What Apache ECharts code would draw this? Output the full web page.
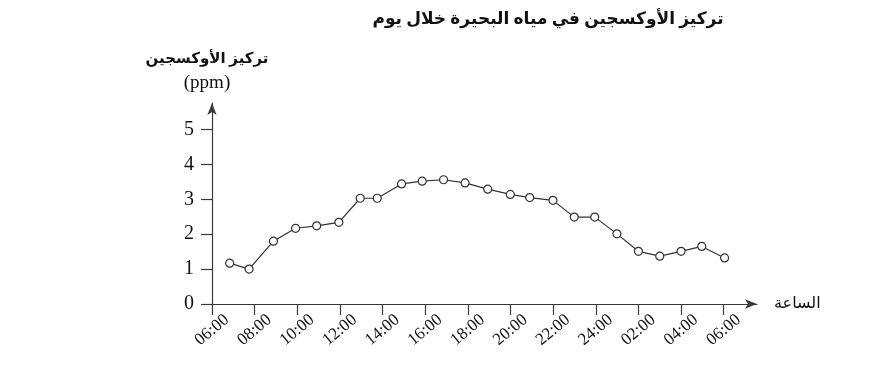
<!DOCTYPE html>
<html>
<head>
<meta charset="utf-8">
<script src="https://cdn.jsdelivr.net/npm/echarts@6/dist/echarts.min.js"></script>
<style>
html,body{margin:0;padding:0;background:#fff;}
#chart{width:891px;height:376px;}
</style>
</head>
<body>
<div id="chart"></div>
<script>
const titleText = 'تركيز الأوكسجين في مياه البحيرة خلال يوم';
const yAxisTitle = 'تركيز الأوكسجين';
const yAxisUnit = '(ppm)';
const xAxisTitle = 'الساعة';
const tickLabels = ['06:00','08:00','10:00','12:00','14:00','16:00','18:00','20:00','22:00','24:00','02:00','04:00','06:00'];
const tickHours = [0,2,4,6,8,10,12,14,16,18,20,22,24];
const yTicks = [0,1,2,3,4,5];
// hours elapsed since 06:00 for each measurement
const hours = [0.83,1.74,2.88,3.92,4.91,5.95,6.95,7.75,8.89,9.86,10.86,11.87,12.93,13.99,14.9,15.99,16.99,17.95,18.99,20.0,21.0,22.0,22.97,24.04];
const oxygen = [1.17,1.0,1.8,2.17,2.24,2.34,3.03,3.03,3.44,3.52,3.56,3.47,3.29,3.14,3.05,2.97,2.49,2.49,2.01,1.51,1.37,1.51,1.65,1.32];

const serif = '"Liberation Serif", "DejaVu Serif", "DejaVu Sans", serif';
const chart = echarts.init(document.getElementById('chart'), null, {renderer:'canvas'});
const axisColor = '#3a3a3a';

chart.setOption({
  animation: false,
  backgroundColor: '#fff',
  title: {
    text: titleText,
    left: 543,
    top: 6,
    textAlign: 'center',
    textStyle: {fontFamily: serif, fontSize: 17, fontWeight: 'bold', color: '#111'}
  },
  grid: {left: 212, right: 134, top: 103, bottom: 72, containLabel: false},
  xAxis: {
    type: 'value',
    min: 0,
    max: 25.56,
    name: xAxisTitle,
    nameLocation: 'end',
    nameGap: 17,
    nameTextStyle: {fontFamily: serif, fontSize: 16, color: '#111', align: 'left', verticalAlign: 'middle'},
    axisLine: {show: true, lineStyle: {color: axisColor, width: 1.2}, symbol: ['none','arrow'], symbolSize: [7,12]},
    axisTick: {show: true, inside: false, length: 11, lineStyle: {color: axisColor, width: 1.2}, customValues: tickHours},
    axisLabel: {
      show: true,
      customValues: tickHours,
      rotate: 40,
      margin: 26,
      align: 'center',
      verticalAlign: 'middle',
      fontFamily: serif,
      fontSize: 17,
      color: '#111',
      formatter: function (v) { const i = tickHours.indexOf(Math.round(v)); return i >= 0 ? tickLabels[i] : ''; }
    },
    splitLine: {show: false}
  },
  yAxis: {
    type: 'value',
    min: 0,
    max: 5.76,
    name: '{a|' + yAxisTitle + '}\n{b|' + yAxisUnit + '}',
    nameLocation: 'end',
    nameGap: 9,
    nameTextStyle: {
      align: 'center',
      padding: [0, 10, 0, 0],
      rich: {
        a: {fontFamily: serif, fontSize: 15, fontWeight: 'bold', color: '#111', lineHeight: 26, align: 'center'},
        b: {fontFamily: serif, fontSize: 19, color: '#111', lineHeight: 22, align: 'center'}
      }
    },
    axisLine: {show: true, lineStyle: {color: axisColor, width: 1.2}, symbol: ['none','arrow'], symbolSize: [7,12]},
    axisTick: {show: true, inside: false, length: 11, lineStyle: {color: axisColor, width: 1.2}, customValues: yTicks},
    axisLabel: {
      show: true,
      customValues: yTicks,
      margin: 18,
      fontFamily: serif,
      fontSize: 20,
      color: '#111'
    },
    splitLine: {show: false}
  },
  series: [{
    type: 'line',
    data: hours.map(function (h, i) { return [h, oxygen[i]]; }),
    symbol: 'circle',
    symbolSize: 8,
    showSymbol: true,
    lineStyle: {color: '#333', width: 1.2},
    itemStyle: {color: '#fff', borderColor: '#333', borderWidth: 1.2},
    z: 3
  }]
});
</script>
</body>
</html>
